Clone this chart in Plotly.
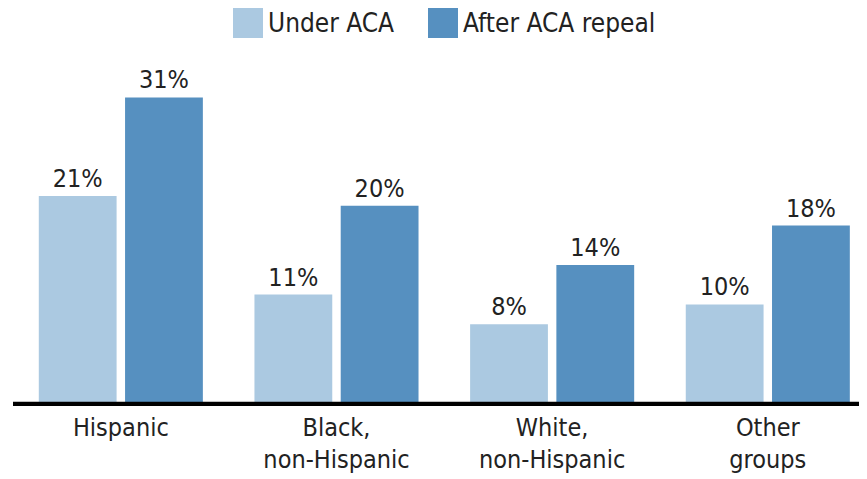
import plotly.graph_objects as go

categories = ["Hispanic", "Black,<br>non-Hispanic", "White,<br>non-Hispanic", "Other<br>groups"]
series_names = ["Under ACA", "After ACA repeal"]
under_aca = [21, 11, 8, 10]
after_repeal = [31, 20, 14, 18]
colors = ["#abc9e1", "#5690c0"]

FONT = "DejaVu Sans Condensed, Roboto, sans-serif"
TXT = "#222222"

# page has an 8px body margin; plot area in page coords: left 13, bottom (axis) 403, top 58
PW, PH = 854, 345

fig = go.Figure()
for name, vals, col in zip(series_names, [under_aca, after_repeal], colors):
    fig.add_trace(go.Bar(
        x=categories, y=vals, name=name, marker_color=col, marker_line_width=0,
        text=[f"{v}%" for v in vals], textposition="outside",
        textfont=dict(family=FONT, size=25, color=TXT), cliponaxis=False,
        showlegend=False,
    ))

# manual legend (large swatches)
leg_x = [233, 428]
for name, col, lx in zip(series_names, colors, leg_x):
    fig.add_shape(type="rect", xref="paper", yref="paper",
                  x0=(lx - 13) / PW, x1=(lx + 17) / PW,
                  y0=(403 - 38) / PH, y1=(403 - 8) / PH,
                  fillcolor=col, line_width=0)
    fig.add_annotation(xref="paper", yref="paper", x=(lx + 20) / PW, y=(403 - 23) / PH,
                       text=name, showarrow=False, xanchor="left", yanchor="middle",
                       font=dict(family=FONT, size=26, color=TXT))

# baseline extending to the right edge
fig.add_shape(type="line", xref="paper", yref="paper", x0=0, x1=1.03, y0=0, y1=0,
              line=dict(color="black", width=2.5), layer="above")

fig.update_layout(
    width=867, height=479,
    margin=dict(l=5, r=8, t=50, b=84),
    paper_bgcolor="white", plot_bgcolor="white",
    barmode="group", bargap=0.2, bargroupgap=0.098,
    font=dict(family=FONT, size=25, color=TXT),
    xaxis=dict(range=[-0.5, 3.46], showline=True, linecolor="black", linewidth=2.5,
               ticks="", showgrid=False, automargin=False,
               tickfont=dict(family=FONT, size=25, color=TXT)),
    yaxis=dict(range=[0, 35], visible=False, showgrid=False, automargin=False),
)

fig.write_html("out.html")
